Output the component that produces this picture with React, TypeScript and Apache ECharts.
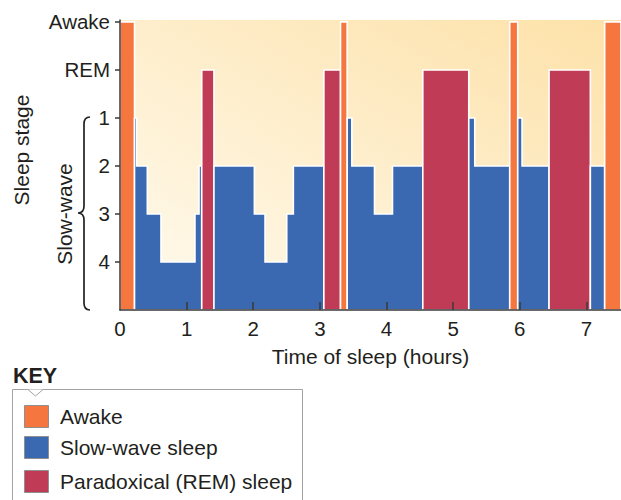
import React, { useEffect, useRef } from "react";
import * as echarts from "echarts";

// ---- data ----
// segment boundaries in hours (segment i spans boundaries[i] .. boundaries[i+1])
const boundaries = [
  0, 0.218, 0.25, 0.41, 0.615, 1.125, 1.186, 1.227, 1.41, 2.017, 2.177, 2.503,
  2.602, 3.06, 3.31, 3.41, 3.48, 3.82, 4.09, 4.545, 5.235, 5.325, 5.85, 5.97,
  6.035, 6.44, 7.06, 7.275, 7.52,
];
const stages = [
  "Awake", "1", "2", "3", "4", "3", "2", "REM", "2", "3", "4", "3", "2", "REM",
  "Awake", "1", "2", "3", "2", "REM", "1", "2", "Awake", "1", "2", "REM", "2",
  "Awake",
];
// y-axis tick labels from bottom (value 1) to top (value 6)
const stageLabels = ["4", "3", "2", "1", "REM", "Awake"];
const xTickLabels = [0, 1, 2, 3, 4, 5, 6, 7];
const keyItems = ["Awake", "Slow-wave sleep", "Paradoxical (REM) sleep"];

const COLORS: Record<string, string> = {
  awake: "#F5763F",
  sws: "#3A69B1",
  rem: "#C03C56",
};
const FONT = "'Liberation Sans', Arial, Helvetica, sans-serif";
const TXT = "#231f20";

function kindOf(s: string) {
  if (s === "Awake") return "awake";
  if (s === "REM") return "rem";
  return "sws";
}

type Seg = { start: number; end: number; level: number };
type Group = { kind: string; segs: Seg[] };

function buildGroups(): Group[] {
  const groups: Group[] = [];
  stages.forEach((s, i) => {
    const kind = kindOf(s);
    const seg = {
      start: boundaries[i],
      end: boundaries[i + 1],
      level: stageLabels.indexOf(s) + 1,
    };
    const last = groups[groups.length - 1];
    if (kind === "sws" && last && last.kind === "sws") last.segs.push(seg);
    else groups.push({ kind, segs: [seg] });
  });
  return groups;
}

let braceRegistered = false;
function registerBrace() {
  if (braceRegistered) return;
  const d =
    "M90 117 C86 117 84 119 84 124 L84 206 C84 210 82.5 213 78 213 C82.5 213 84 216 84 220 L84 303 C84 308 86 310 90 310";
  echarts.graphic.registerShape("brace", echarts.graphic.extendPath(d, {}));
  braceRegistered = true;
}

export default function App() {
  const ref = useRef<HTMLDivElement>(null);

  useEffect(() => {
    if (!ref.current) return;
    registerBrace();
    const chart = echarts.init(ref.current, null, { renderer: "svg" });
    const groups = buildGroups();

    const swatchTop = [405, 436, 470];
    const swatchColors = [COLORS.awake, COLORS.sws, COLORS.rem];

    const textStyle = (text: string, size: number, align = "center", weight = "normal") => ({
      text,
      fontSize: size,
      fontWeight: weight,
      fontFamily: FONT,
      fill: TXT,
      align,
      verticalAlign: "middle",
      textAlign: align,
      textVerticalAlign: "middle",
    });

    const graphics: any[] = [
      { type: "text", x: 21, y: 150, rotation: Math.PI / 2, style: textStyle("Sleep stage", 21) },
      { type: "text", x: 64, y: 214, rotation: Math.PI / 2, style: textStyle("Slow-wave", 21) },
      {
        type: "brace",
        x: 0,
        y: 0,
        shape: {},
        style: { fill: "none", stroke: "#222", lineWidth: 1.7 },
      },
      { type: "text", x: 13, y: 376, style: textStyle("KEY", 21.5, "left", "bold") },
      {
        type: "rect",
        shape: { x: 12.5, y: 389.5, width: 290, height: 130 },
        style: { fill: "#fff", stroke: "#a3a3a3", lineWidth: 1 },
      },
      {
        type: "polygon",
        shape: { points: [[28, 389.5], [35.5, 396], [43, 389.5]] },
        style: { fill: "#fff", stroke: null },
      },
      {
        type: "polyline",
        shape: { points: [[28, 389.5], [35.5, 396], [43, 389.5]] },
        style: { fill: null, stroke: "#a3a3a3", lineWidth: 1 },
      },
    ];
    keyItems.forEach((label, i) => {
      graphics.push({
        type: "rect",
        shape: { x: 24.5, y: swatchTop[i] + 0.5, width: 24, height: 22 },
        style: { fill: swatchColors[i], stroke: "#8f8f8f", lineWidth: 1 },
      });
      graphics.push({
        type: "text",
        x: 60,
        y: swatchTop[i] + 11.5,
        style: textStyle(label, 21, "left"),
      });
    });

    const option: any = {
      animation: false,
      grid: {
        left: 120,
        right: 0,
        top: 20,
        bottom: 190,
        show: true,
        borderWidth: 0,
        backgroundColor: new echarts.graphic.LinearGradient(0, 1, 1, 0, [
          { offset: 0, color: "#fffbf0" },
          { offset: 1, color: "#fde1a8" },
        ]),
      },
      xAxis: {
        type: "value",
        min: 0,
        max: 7.52,
        interval: 1,
        z: 10,
        name: "Time of sleep (hours)",
        nameLocation: "middle",
        nameGap: 36,
        nameTextStyle: {
          fontSize: 21,
          fontFamily: FONT,
          color: TXT,
          verticalAlign: "top",
        },
        splitLine: { show: false },
        axisLine: { lineStyle: { color: "#3a3a3a", width: 1.5 } },
        axisTick: {
          inside: true,
          length: 8,
          customValues: xTickLabels.filter((v) => v > 0),
          lineStyle: { color: "#3a3a3a", width: 1.5 },
        },
        axisLabel: {
          customValues: xTickLabels,
          margin: 8,
          fontSize: 20.5,
          fontFamily: FONT,
          color: TXT,
          formatter: (v: number) => String(v),
        },
      },
      yAxis: {
        type: "value",
        min: 0,
        max: 6.04,
        interval: 1,
        z: 10,
        splitLine: { show: false },
        axisLine: { show: true, lineStyle: { color: "#3a3a3a", width: 1.5 } },
        axisTick: {
          show: true,
          length: 5,
          customValues: stageLabels.map((_, i) => i + 1),
          lineStyle: { color: "#3a3a3a", width: 1.5 },
        },
        axisLabel: {
          customValues: stageLabels.map((_, i) => i + 1),
          margin: 10,
          fontSize: 20.5,
          fontFamily: FONT,
          color: TXT,
          formatter: (v: number) => stageLabels[Math.round(v) - 1] ?? "",
        },
      },
      series: [
        {
          type: "custom",
          clip: true,
          data: groups.map((g, i) => [g.segs[0].start, i]),
          renderItem: (params: any, api: any) => {
            const g = groups[params.dataIndex];
            const pts: number[][] = [];
            pts.push(api.coord([g.segs[0].start, 0]));
            g.segs.forEach((s) => {
              pts.push(api.coord([s.start, s.level]));
              pts.push(api.coord([s.end, s.level]));
            });
            pts.push(api.coord([g.segs[g.segs.length - 1].end, 0]));
            return {
              type: "polygon",
              shape: { points: pts },
              style: { fill: COLORS[g.kind], stroke: "#ffffff", lineWidth: 1.6 },
            };
          },
        },
      ],
      graphic: graphics,
    };

    chart.setOption(option);
    return () => chart.dispose();
  }, []);

  return (
    <div
      ref={ref}
      style={{ position: "fixed", left: 0, top: 0, width: 621, height: 500, background: "#fff" }}
    />
  );
}
